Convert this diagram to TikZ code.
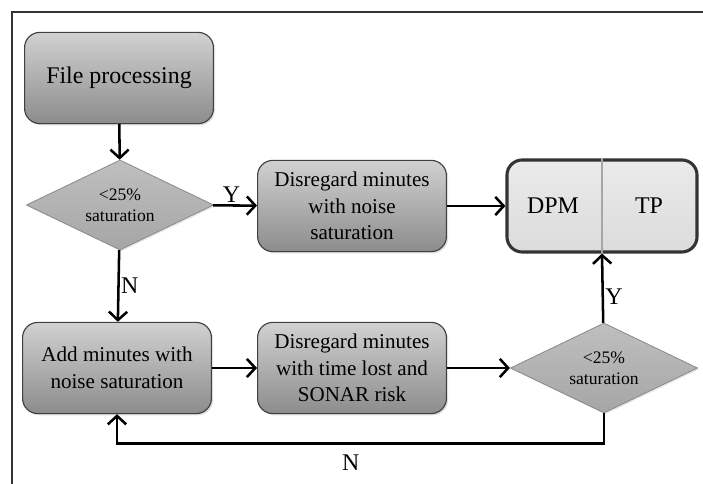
\documentclass[tikz,border=0pt]{standalone}
\usepackage{fontspec}
\setmainfont{Liberation Serif}
\usetikzlibrary{shapes.geometric,arrows.meta,shadows}

\tikzset{
    stepbox/.style={draw=black!75, line width=0.8pt, rounded corners=0.38cm,
        top color=black!18, bottom color=black!45, align=center,
        minimum width=4.72cm, minimum height=2.28cm, inner sep=2pt,
        font=\fontsize{15}{19}\selectfont,
        drop shadow={opacity=0.25, shadow xshift=1.2pt, shadow yshift=-1.2pt}},
    decide/.style={diamond, draw=black!45, line width=0.6pt, aspect=2,
        top color=black!25, bottom color=black!35, align=center,
        minimum width=4.68cm, minimum height=2.25cm, inner sep=0pt,
        font=\fontsize{12.5}{15}\selectfont,
        drop shadow={opacity=0.2, shadow xshift=1pt, shadow yshift=-1pt}},
    flow/.style={line width=1.8pt, -{Straight Barb[length=6pt,width=13pt,line width=1.8pt]}},
    yn/.style={font=\fontsize{17}{17}\selectfont, inner sep=1pt}
}

\begin{document}
\begin{tikzpicture}[x=0.025cm, y=-0.025cm]
    \useasboundingbox (0,0) rectangle (703,484);
    \draw [black!80, line width=1.5pt] (12,484) -- (12,12) -- (703,12);

    \node [stepbox] (fp) at (119,78) {\fontsize{17}{20}\selectfont File processing};
    \node [decide] (d1) at (120,205) {<25\%\\saturation};
    \node [stepbox] (nsat) at (352,206) {Disregard minutes\\with noise\\saturation};
    \node [draw=black!80, line width=2.2pt, rounded corners=0.38cm,
        top color=black!8, bottom color=black!14,
        minimum width=4.75cm, minimum height=2.3cm] (out) at (602,206) {};
    \draw [black!35, line width=0.8pt] (out.north) -- (out.south);
    \node [font=\fontsize{17}{17}\selectfont] (dpm) at (553,206) {DPM};
    \node [font=\fontsize{17}{17}\selectfont] (tp) at (649,206) {TP};

    \node [stepbox] (add) at (117,368) {Add minutes with\\noise saturation};
    \node [stepbox] (lost) at (352,368) {Disregard minutes\\with time lost and\\SONAR risk};
    \node [decide] (d2) at (604,368) {<25\%\\saturation};

    \draw [flow] (fp) -- (d1);
    \draw [flow] (d1) -- node [yn, pos=0.42, above] {Y} (nsat);
    \draw [flow] (nsat) -- (out);
    \draw [flow] (d1) -- node [yn, right] {N} (add);
    \draw [flow] (add) -- (lost);
    \draw [flow] (lost) -- (d2);
    \draw [flow] (d2) -- node [yn, pos=0.38, right] {Y} (out.south);
    \draw [flow] (d2.south) -- ++(0,30) -| node [yn, pos=0.26, below=6pt] {N} (add.south);
\end{tikzpicture}
\end{document}
